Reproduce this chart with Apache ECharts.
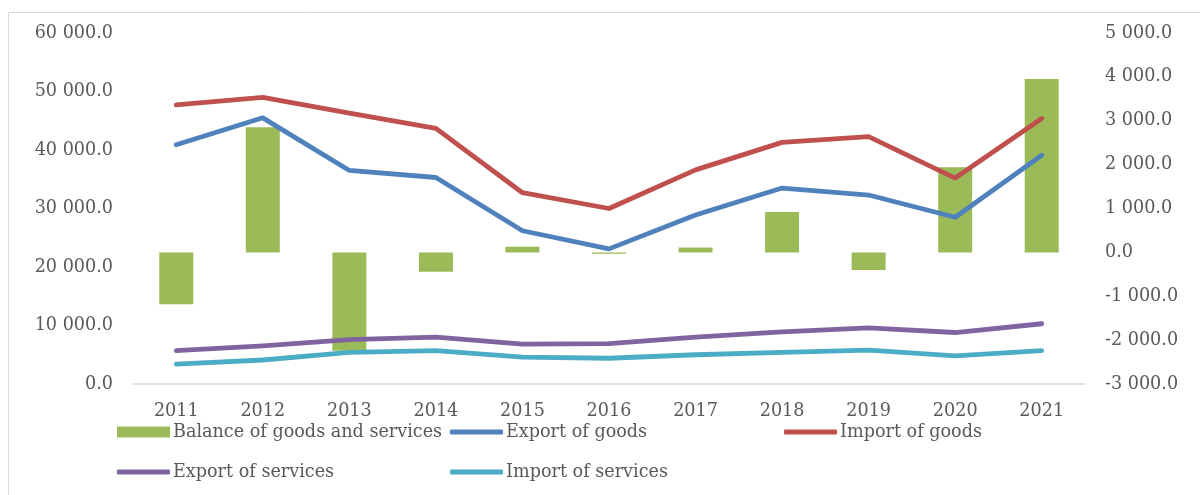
<!DOCTYPE html>
<html>
<head>
<meta charset="utf-8">
<script src="https://cdn.jsdelivr.net/npm/echarts@6/dist/echarts.min.js"></script>
<style>
  html, body { margin: 0; padding: 0; background: #fff; }
  #main { width: 1200px; height: 495px; }
</style>
</head>
<body>
<div id="main"></div>
<script>
var years = ['2011', '2012', '2013', '2014', '2015', '2016', '2017', '2018', '2019', '2020', '2021'];
// right axis
var balance = [-1180, 2850, -2240, -440, 130, -30, 110, 920, -400, 1940, 3950];
// left axis
var exportGoods = [40900, 45500, 36500, 35300, 26200, 23100, 28900, 33500, 32300, 28500, 39100];
var importGoods = [47700, 49000, 46300, 43700, 32700, 30000, 36600, 41300, 42300, 35200, 45400];
var exportServices = [5700, 6500, 7600, 8000, 6800, 6900, 8000, 8900, 9600, 8800, 10300];
var importServices = [3400, 4100, 5400, 5700, 4600, 4400, 5000, 5400, 5800, 4800, 5700];

var FONT = 'DejaVu Serif';
var TXT = '#595959';
var FS = 17.6;

function fmt(v) {
    var neg = v < 0;
    var s = Math.abs(v).toFixed(1);
    var parts = s.split('.');
    var intPart = parts[0].replace(/\B(?=(\d{3})+(?!\d))/g, ' ');
    return (neg ? '-' : '') + intPart + '.' + parts[1];
}

function lineSeries(name, data, color) {
    return {
        name: name,
        type: 'line',
        yAxisIndex: 0,
        data: data,
        showSymbol: false,
        symbol: 'none',
        lineStyle: { width: 4.8, color: color, cap: 'round', join: 'round' },
        itemStyle: { color: color },
        z: 3
    };
}

function legendItem(name, left, top, isBar) {
    return {
        data: [{ name: name, icon: isBar ? 'rect' : 'roundRect' }],
        left: left,
        top: top,
        itemWidth: 53,
        itemHeight: isBar ? 11 : 5,
        itemGap: 0,
        padding: 0,
        textStyle: { fontFamily: FONT, fontSize: FS, color: TXT, padding: [0, 0, 0, -2] }
    };
}

var myChart = echarts.init(document.getElementById('main'));
var option = {
    backgroundColor: '#fff',
    animation: false,
    graphic: [{
        type: 'rect',
        shape: { x: 8.5, y: 12.5, width: 1220, height: 520 },
        style: { fill: 'none', stroke: '#D9D9D9', lineWidth: 1 },
        silent: true
    }],
    grid: { left: 133, right: 115, top: 33, bottom: 111 },
    legend: [
        legendItem('Balance of goods and services', 117, 423, true),
        legendItem('Export of goods', 450, 423, false),
        legendItem('Import of goods', 784, 423, false),
        legendItem('Export of services', 117, 463, false),
        legendItem('Import of services', 450, 463, false)
    ],
    xAxis: {
        type: 'category',
        data: years,
        axisTick: { show: false },
        axisLine: { lineStyle: { color: '#D9D9D9', width: 1.5 } },
        axisLabel: { fontFamily: FONT, fontSize: FS, color: TXT, margin: 18 }
    },
    yAxis: [{
        type: 'value',
        min: 0,
        max: 60000,
        interval: 10000,
        splitLine: { show: false },
        axisLine: { show: false },
        axisTick: { show: false },
        axisLabel: { fontFamily: FONT, fontSize: FS, color: TXT, margin: 20, formatter: fmt }
    }, {
        type: 'value',
        min: -3000,
        max: 5000,
        interval: 1000,
        splitLine: { show: false },
        axisLine: { show: false },
        axisTick: { show: false },
        axisLabel: { fontFamily: FONT, fontSize: FS, color: TXT, margin: 20, formatter: fmt }
    }],
    series: [
        {
            name: 'Balance of goods and services',
            type: 'bar',
            yAxisIndex: 1,
            data: balance,
            barWidth: 34,
            itemStyle: { color: '#9BBB59' },
            z: 2
        },
        lineSeries('Export of goods', exportGoods, '#4F81BD'),
        lineSeries('Import of goods', importGoods, '#C0504D'),
        lineSeries('Export of services', exportServices, '#8064A2'),
        lineSeries('Import of services', importServices, '#4BACC6')
    ]
};
myChart.setOption(option);
</script>
</body>
</html>
